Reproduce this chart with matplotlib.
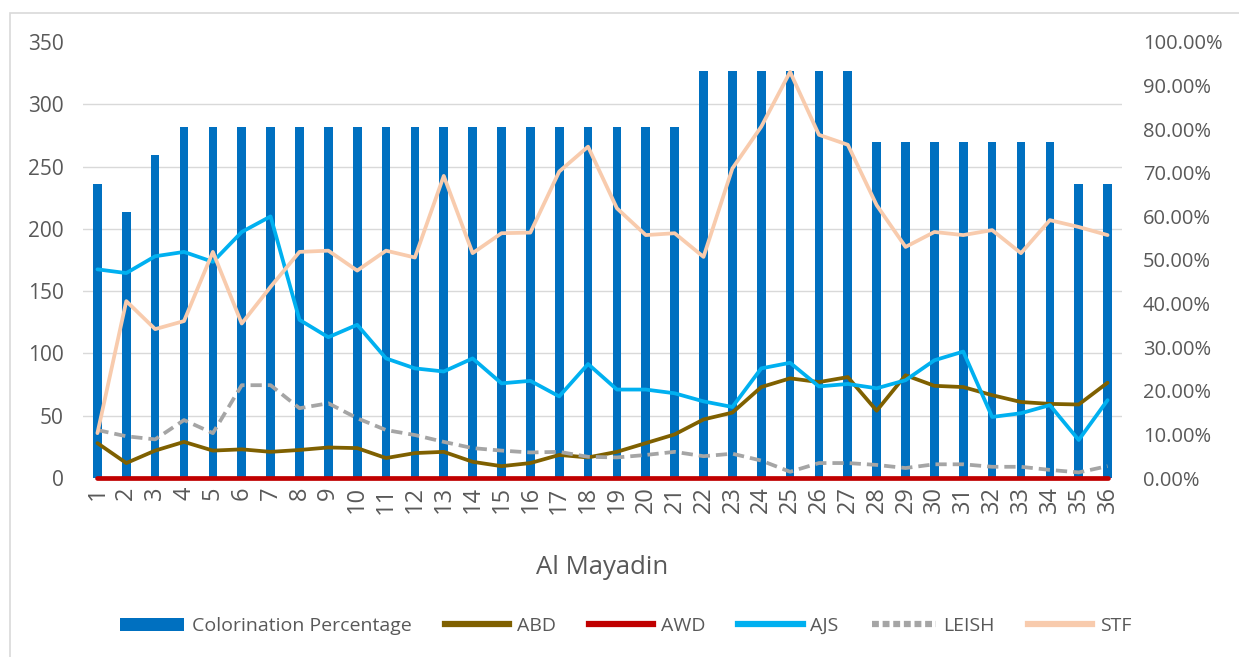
import numpy as np
import matplotlib
matplotlib.use("Agg")
import matplotlib.pyplot as plt
from matplotlib.patches import Patch, Rectangle
from matplotlib.lines import Line2D
from matplotlib.ticker import PercentFormatter

plt.rcParams['font.family'] = ['Open Sans', 'DejaVu Sans']

# data
sites = [str(i) for i in range(1, 37)]

colorination = [67.5, 61.1, 74.1, 80.4, 80.4, 80.4, 80.4, 80.4, 80.4, 80.4,
                80.4, 80.4, 80.4, 80.4, 80.4, 80.4, 80.4, 80.4, 80.4, 80.4,
                80.4, 93.4, 93.4, 93.4, 93.4, 93.4, 93.4, 77.1, 77.1, 77.1,
                77.1, 77.1, 77.1, 77.1, 67.5, 67.5]

abd = [28, 12, 22, 29, 22, 23, 21, 22.5, 24.5, 24, 16, 20, 21, 13, 9.5, 12,
       18.5, 16.5, 21, 28, 35, 47, 52.5, 73, 80, 77, 81, 54, 82.5, 74, 73,
       66.5, 61, 59.5, 59, 76.5]

awd = [0] * 36

ajs = [167.5, 164.5, 178, 181.5, 173.5, 197.5, 210, 127, 113, 123, 96, 88,
       85.5, 96, 76, 78, 65.5, 91.5, 71, 71, 68, 61.5, 57, 88, 92.5, 73.5,
       75.5, 72, 78.5, 94.5, 101.5, 49, 52, 58.5, 30.5, 62.5]

leish = [38.5, 33.5, 31, 46.5, 36, 74.5, 74.5, 56, 60, 48, 38.5, 34.5, 29,
         24, 22, 20.5, 21, 17, 16.5, 18.5, 21, 17.5, 19.5, 14, 5, 12, 12,
         10.5, 8, 11, 11, 9, 9, 6.5, 4.5, 9.5]

stf = [36, 142, 119.5, 126, 181.5, 124, 153.5, 181.5, 182.5, 166.5, 182.5,
       177, 242.5, 180.5, 196.5, 197, 246, 266, 216.5, 195, 196.5, 177.5,
       248.5, 282, 326, 275.5, 267.5, 219, 185.5, 197.5, 195, 199, 180.5,
       207, 201.5, 195]

x = np.arange(len(sites))
grey_text = '#595959'

fig = plt.figure(figsize=(12.39, 6.57), dpi=100)
ax = fig.add_axes([83 / 1239, 1 - 478 / 657, (1122 - 83) / 1239, (478 - 42) / 657])

# bars on the percentage axis (shown on the right)
ax.bar(x, colorination, width=0.3, color='#0070C0', zorder=2)
ax.set_ylim(0, 100)
ax.set_xlim(-0.5, len(sites) - 0.5)
ax.set_yticks(np.arange(0, 101, 10))
ax.yaxis.set_major_formatter(PercentFormatter(decimals=2))
# gridlines follow the left scale (every 50 of 350)
ax.set_yticks(np.arange(0, 351, 50) / 350 * 100, minor=True)
ax.grid(which='minor', axis='y', color='#D9D9D9', lw=1, zorder=0)
ax.set_xticks(x)
ax.set_xticklabels(sites, rotation=90)
ax.tick_params(axis='x', length=0, labelsize=17, labelcolor=grey_text, pad=6)
for s in ax.spines.values():
    s.set_visible(False)
ax.set_xlabel('Al Mayadin', fontsize=18.5, color=grey_text, labelpad=30)

# lines on the count axis (shown on the left)
ax2 = ax.twinx()
ax.yaxis.tick_right()
ax.tick_params(axis='y', which='both', length=0, labelsize=14.5,
               labelcolor=grey_text, pad=15)
ax2.yaxis.tick_left()
lw = 2.7
ax2.plot(x, abd, color='#7F6000', lw=lw, solid_capstyle='round')
ax2.plot(x, awd, color='#C00000', lw=3.4, solid_capstyle='round', clip_on=False)
ax2.plot(x, ajs, color='#00B0F0', lw=lw, solid_capstyle='round')
ax2.plot(x, leish, color='#A5A5A5', lw=lw, dashes=(3, 1.6))
ax2.plot(x, stf, color='#F8CBAD', lw=lw, solid_capstyle='round')
ax2.set_ylim(0, 350)
ax2.set_yticks(np.arange(0, 351, 50))
ax2.tick_params(axis='y', length=0, labelsize=15, labelcolor=grey_text, pad=14)
for s in ax2.spines.values():
    s.set_visible(False)

handles = [
    Patch(facecolor='#0070C0', label='Colorination Percentage'),
    Line2D([], [], color='#7F6000', lw=4.5, label='ABD'),
    Line2D([], [], color='#C00000', lw=4.5, label='AWD'),
    Line2D([], [], color='#00B0F0', lw=4.5, label='AJS'),
    Line2D([], [], color='#A5A5A5', lw=4.5, dashes=(1.1, 0.6), label='LEISH'),
    Line2D([], [], color='#F8CBAD', lw=4.5, label='STF'),
]
leg = fig.legend(handles=handles, loc='center', bbox_to_anchor=(0.505, 0.047),
                 ncol=6, frameon=False, fontsize=14, handlelength=3.3,
                 columnspacing=1.7, handletextpad=0.4)
for t in leg.get_texts():
    t.set_color(grey_text)

# outer chart border
fig.patches.append(Rectangle((10 / 1239, -0.01), 1.02, 1 - 13 / 657 + 0.01,
                             transform=fig.transFigure, fill=False,
                             edgecolor='#D9D9D9', lw=1.2))

fig.savefig('out.png', dpi=100)
